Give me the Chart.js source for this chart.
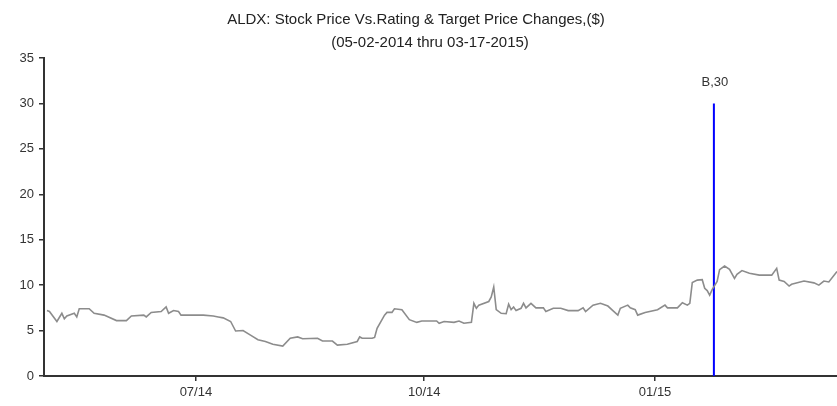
<!DOCTYPE html>
<html>
<head>
<meta charset="utf-8">
<script src="https://cdn.jsdelivr.net/npm/chart.js@4/dist/chart.umd.min.js"></script>
<style>
html,body{margin:0;padding:0;background:#fff;}
#wrap{width:837px;height:406px;position:relative;}
</style>
</head>
<body>
<div id="wrap"><canvas id="c" width="837" height="406"></canvas></div>
<script>
// Title text
const titleLines = ["ALDX: Stock Price Vs.Rating & Target Price Changes,($)", "(05-02-2014 thru 03-17-2015)"];
// Days since 05-02-2014
const days = [0,1,4,6,7,8,11,12,13,17,19,23,28,32,34,39,40,42,46,48,49,51,53,54,63,67,69,71,74,76,79,82,85,88,91,95,98,101,103,109,111,115,117,121,125,126,127,131,132,133,136,137,139,140,143,146,149,151,157,158,160,164,166,168,171,172,173,174,178,179,180,181,183,185,186,187,188,189,191,192,193,195,197,200,201,204,207,210,214,216,217,220,223,226,228,230,231,234,235,237,238,241,246,249,250,254,256,258,259,260,262,264,265,266,267,268,270,271,273,275,277,278,280,283,287,292,294,295,297,299,300,305,309,311,313,315,318.3];
// Stock price ($)
const prices = [7.2,7.1,6.0,6.9,6.3,6.6,6.9,6.5,7.4,7.4,6.9,6.7,6.1,6.1,6.6,6.7,6.5,7.0,7.1,7.6,6.9,7.2,7.1,6.7,6.7,6.6,6.5,6.4,6.0,4.95,5.0,4.5,4.0,3.8,3.5,3.3,4.15,4.3,4.1,4.15,3.85,3.85,3.4,3.5,3.8,4.3,4.15,4.15,4.25,5.25,6.7,7.0,7.0,7.4,7.3,6.2,5.9,6.05,6.05,5.8,6.0,5.9,6.05,5.8,5.9,8.0,7.45,7.8,8.2,8.7,9.8,7.3,6.9,6.85,7.9,7.3,7.6,7.2,7.45,8.0,7.5,8.0,7.5,7.5,7.1,7.45,7.45,7.2,7.2,7.5,7.1,7.8,8.0,7.7,7.2,6.7,7.45,7.8,7.5,7.3,6.7,7.0,7.3,7.8,7.5,7.5,8.07,7.8,8.0,10.3,10.55,10.6,9.65,9.4,8.9,9.5,10.4,11.7,12.1,11.75,10.75,11.2,11.6,11.3,11.1,11.1,11.85,10.55,10.4,9.9,10.1,10.45,10.25,10.0,10.45,10.35,11.5];
// Rating change event
const ratingDay = [268.7];
const ratingLabel = ["B,30"];
const ratingTarget = [30];
// X tick positions (days since 05-02-2014) and labels
const xTickDays = [60, 152, 245];
const xTickLabels = ["07/14", "10/14", "01/15"];
const yTicks = [0,5,10,15,20,25,30,35];

const priceData = days.map((d,i)=>({x:d, y:prices[i]}));
const ratingData = [{x:ratingDay[0], y:0},{x:ratingDay[0], y:ratingTarget[0]}];

const FONT = "'Liberation Sans', Arial, sans-serif";

const drawTexts = {
  id: 'drawTexts',
  afterDraw(chart) {
    const ctx = chart.ctx;
    ctx.save();
    ctx.fillStyle = '#222';
    ctx.font = '15px ' + FONT;
    ctx.textAlign = 'center';
    ctx.textBaseline = 'middle';
    ctx.fillText(titleLines[0], 416, 20);
    ctx.fillText(titleLines[1], 430, 43);
    const xs = chart.scales.x, ys = chart.scales.y;
    ctx.font = '13px ' + FONT;
    ctx.fillStyle = '#333';
    ctx.textBaseline = 'alphabetic';
    ctx.fillText(ratingLabel[0], xs.getPixelForValue(ratingDay[0]) + 1, ys.getPixelForValue(ratingTarget[0]) - 17);
    ctx.restore();
  }
};

new Chart(document.getElementById('c'), {
  type: 'line',
  data: {
    datasets: [
      { data: priceData, borderColor: '#8c8c8c', borderWidth: 1.6, pointRadius: 0, tension: 0, fill: false },
      { data: ratingData, borderColor: '#0000ff', borderWidth: 2, pointRadius: 0, tension: 0, fill: false }
    ]
  },
  options: {
    responsive: false,
    animation: false,
    events: [],
    layout: { padding: { top: 58, right: 0, bottom: 0, left: 0 } },
    plugins: { legend: { display: false }, title: { display: false }, tooltip: { enabled: false } },
    scales: {
      x: {
        type: 'linear',
        min: -1.2,
        max: 318.3,
        afterBuildTicks(scale) { scale.ticks = xTickDays.map(v => ({ value: v })); },
        afterFit(scale) { scale.height = 30; },
        ticks: {
          autoSkip: false, maxRotation: 0, padding: 4, color: '#333',
          font: { family: FONT, size: 13 },
          callback(value) { const i = xTickDays.indexOf(value); return i >= 0 ? xTickLabels[i] : ''; }
        },
        grid: { display: true, drawOnChartArea: false, drawTicks: true, tickLength: 5, color: '#333', lineWidth: 1.5 },
        border: { display: true, color: '#333', width: 2 }
      },
      y: {
        type: 'linear',
        min: 0,
        max: 35,
        afterBuildTicks(scale) { scale.ticks = yTicks.map(v => ({ value: v })); },
        afterFit(scale) { scale.width = 44; },
        ticks: { padding: 5, color: '#333', font: { family: FONT, size: 13 } },
        grid: { display: true, drawOnChartArea: false, drawTicks: true, tickLength: 5, color: '#333', lineWidth: 1.5 },
        border: { display: true, color: '#333', width: 2 }
      }
    }
  },
  plugins: [drawTexts]
});
</script>
</body>
</html>
